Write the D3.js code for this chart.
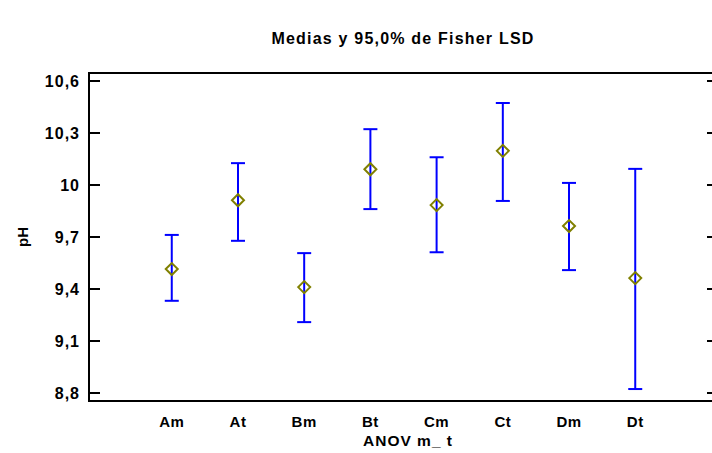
<!DOCTYPE html>
<html>
<head>
<meta charset="utf-8">
<script src="https://cdn.jsdelivr.net/npm/d3@7"></script>
<style>
  body { margin: 0; background: #fff; }
  text { font-family: Arial, "Liberation Sans", sans-serif; font-weight: bold; }
</style>
</head>
<body>
<svg id="chart" width="712" height="453"></svg>
<script>
"use strict";

// groups and LSD intervals
var categories = ["Am", "At", "Bm", "Bt", "Cm", "Ct", "Dm", "Dt"];
var means = [9.515, 9.912, 9.411, 10.091, 9.884, 10.197, 9.763, 9.463];
var lower = [9.332, 9.678, 9.209, 9.861, 9.612, 9.908, 9.509, 8.823];
var upper = [9.712, 10.126, 9.607, 10.322, 10.160, 10.473, 10.012, 10.093];
var yTicks = [8.8, 9.1, 9.4, 9.7, 10, 10.3, 10.6];

(function() {
var svg = d3.select("#chart");
var pl = 89, pr = 718, pt = 73, pb = 401;

var x = d3.scaleLinear().domain([-0.25, 9.25]).range([pl, pr]);
var y = d3.scaleLinear().domain([8.754, 10.646]).range([pb, pt]);
var fmt = function(d) { return String(d).replace(".", ","); };

// title
svg.append("text")
  .attr("x", 403).attr("y", 44)
  .attr("text-anchor", "middle")
  .style("font-size", "16px")
  .style("letter-spacing", "1.2px")
  .text("Medias y 95,0% de Fisher LSD");

// frame: left, top, bottom (right edge falls off the canvas)
var g = svg.append("g");
g.append("path")
  .attr("d", "M" + pr + "," + pt + "H" + pl + "V" + pb + "H" + pr)
  .attr("fill", "none").attr("stroke", "#000").attr("stroke-width", 2);

// y ticks inward on left and right
g.selectAll(".ytl").data(yTicks).enter().append("line")
  .attr("x1", pl).attr("x2", pl + 11)
  .attr("y1", function(d) { return y(d); }).attr("y2", function(d) { return y(d); })
  .attr("stroke", "#000").attr("stroke-width", 2);
g.selectAll(".ytr").data(yTicks).enter().append("line")
  .attr("x1", pr - 11).attr("x2", pr)
  .attr("y1", function(d) { return y(d); }).attr("y2", function(d) { return y(d); })
  .attr("stroke", "#000").attr("stroke-width", 2);

g.selectAll(".ylab").data(yTicks).enter().append("text")
  .attr("x", pl - 9)
  .attr("y", function(d) { return y(d) + 6; })
  .attr("text-anchor", "end")
  .style("font-size", "16px")
  .style("letter-spacing", "1px")
  .text(fmt);

// x labels
g.selectAll(".xlab").data(categories).enter().append("text")
  .attr("x", function(d, i) { return x(i + 1); })
  .attr("y", 426.5)
  .attr("text-anchor", "middle")
  .style("font-size", "15px")
  .style("letter-spacing", "0.5px")
  .text(function(d) { return d; });

svg.append("text")
  .attr("x", 408).attr("y", 446)
  .attr("text-anchor", "middle")
  .style("font-size", "15.5px")
  .style("letter-spacing", "1px")
  .text("ANOV m_ t");

svg.append("text")
  .attr("transform", "translate(28," + ((pt + pb) / 2) + ")rotate(-90)")
  .attr("text-anchor", "middle")
  .style("font-size", "15px")
  .text("pH");

// intervals
var bars = svg.append("g").attr("stroke", "#0000ff").attr("stroke-width", 2);
categories.forEach(function(c, i) {
  var cx = x(i + 1);
  bars.append("line").attr("x1", cx).attr("x2", cx).attr("y1", y(upper[i])).attr("y2", y(lower[i]));
  bars.append("line").attr("x1", cx - 7).attr("x2", cx + 7).attr("y1", y(upper[i])).attr("y2", y(upper[i]));
  bars.append("line").attr("x1", cx - 7).attr("x2", cx + 7).attr("y1", y(lower[i])).attr("y2", y(lower[i]));
});

// mean markers
svg.append("g").selectAll("path").data(means).enter().append("path")
  .attr("d", function(d, i) {
    var cx = x(i + 1), cy = y(d);
    return "M" + (cx - 6) + "," + cy + "L" + cx + "," + (cy - 6) + "L" + (cx + 6) + "," + cy + "L" + cx + "," + (cy + 6) + "Z";
  })
  .attr("fill", "none").attr("stroke", "#808000").attr("stroke-width", 2);
})();
</script>
</body>
</html>
